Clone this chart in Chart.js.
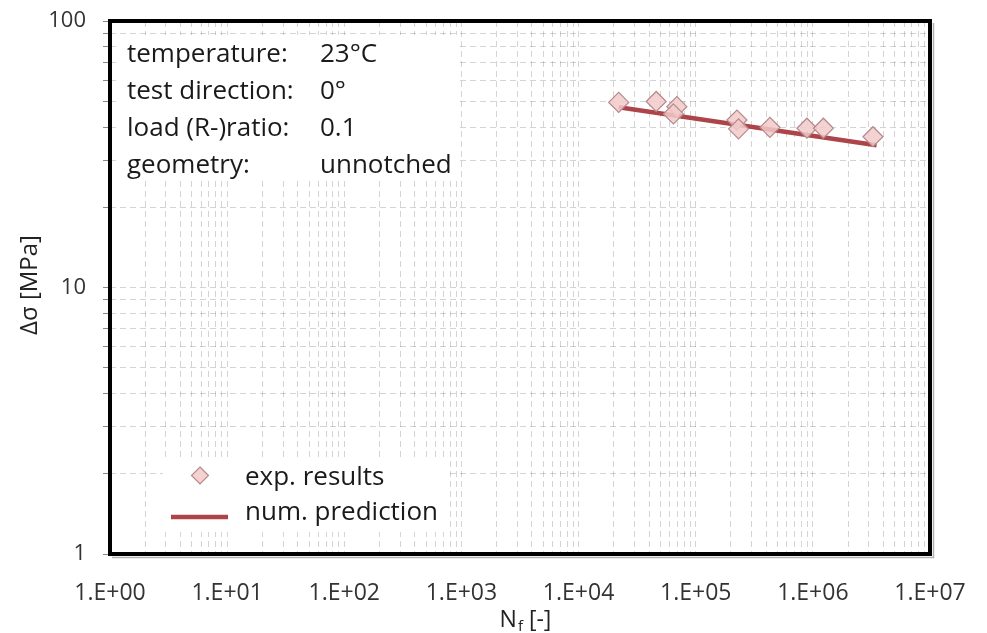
<!DOCTYPE html>
<html>
<head>
<meta charset="utf-8">
<title>S-N curve</title>
<script src="https://cdn.jsdelivr.net/npm/chart.js@4.4.1/dist/chart.umd.min.js"></script>
<style>
    html, body { margin: 0; padding: 0; background: #fff; }
    #wrap { width: 987px; height: 633px; }
</style>
</head>
<body>
<div id="wrap"><canvas id="snChart" width="987" height="633"></canvas></div>
<script>
// experimental fatigue results (cycles to failure, stress range in MPa)
const expCycles = [2.2e4, 4.6e4, 6.9e4, 6.45e4, 2.25e5, 2.32e5, 4.3e5, 8.9e5, 1.23e6, 3.26e6];
const expStress = [49.5, 49.9, 47.7, 44.8, 42.5, 39.4, 39.9, 39.6, 39.6, 36.8];

// numerical prediction, straight line in log-log
const predCycles = [2.2e4, 3.5e6];
const predStress = [47.5, 34.2];

// axis decades and their labels
const xDecades = [1, 10, 100, 1e3, 1e4, 1e5, 1e6, 1e7];
const xTickLabels = ["1.E+00", "1.E+01", "1.E+02", "1.E+03", "1.E+04", "1.E+05", "1.E+06", "1.E+07"];
const yDecades = [1, 10, 100];
const yTickLabels = ["1", "10", "100"];

// test conditions box
const infoLabels = ["temperature:", "test direction:", "load (R-)ratio:", "geometry:"];
const infoValues = ["23°C", "0°", "0.1", "unnotched"];

const FONT = "'Open Sans', 'Noto Sans', sans-serif";
const GRID = "rgba(0, 0, 0, 0.17)";
const LINE_COLOR = "#ad4449";
const MARK_FILL = "rgba(243, 202, 202, 0.85)";
const MARK_EDGE = "#b48a8c";

// 1..9 x 10^n between the first and last decade
function logTicks(decades) {
    const ticks = [];
    decades.forEach((d, i) => {
        if (i === decades.length - 1) {
            ticks.push({ value: d });
            return;
        }
        for (let m = 1; m < 10; m++) ticks.push({ value: m * d });
    });
    return ticks;
}

function decadeLabel(value, decades, labels) {
    const i = decades.findIndex((d) => Math.abs(value / d - 1) < 1e-9);
    return i >= 0 ? labels[i] : "";
}

const decorations = {
    id: "decorations",
    beforeDatasetsDraw(chart) {
        const ctx = chart.ctx;
        ctx.save();

        // info box
        ctx.fillStyle = "#fff";
        ctx.fillRect(120, 35, 338, 143);
        ctx.fillStyle = "#1a1a1a";
        ctx.font = `26px ${FONT}`;
        ctx.textBaseline = "middle";
        infoLabels.forEach((label, i) => {
            const y = 55 + i * 36.7;
            ctx.fillText(label, 127, y);
            ctx.fillText(infoValues[i], 320, y);
        });

        // legend box
        ctx.fillStyle = "#fff";
        ctx.fillRect(163, 457, 284, 75);
        ctx.beginPath();
        ctx.moveTo(200, 467);
        ctx.lineTo(208.5, 475.5);
        ctx.lineTo(200, 484);
        ctx.lineTo(191.5, 475.5);
        ctx.closePath();
        ctx.fillStyle = MARK_FILL;
        ctx.fill();
        ctx.strokeStyle = MARK_EDGE;
        ctx.lineWidth = 1.2;
        ctx.stroke();
        ctx.beginPath();
        ctx.moveTo(171, 517);
        ctx.lineTo(228, 517);
        ctx.strokeStyle = LINE_COLOR;
        ctx.lineWidth = 4.5;
        ctx.stroke();
        ctx.fillStyle = "#1a1a1a";
        ctx.font = `26px ${FONT}`;
        ctx.fillText("exp. results", 245, 478);
        ctx.fillText("num. prediction", 245, 513);

        ctx.restore();
    },
    afterDraw(chart) {
        const ctx = chart.ctx;
        const area = chart.chartArea;
        ctx.save();

        // plot frame with a faint shadow line on the right and bottom
        ctx.strokeStyle = "rgba(0, 0, 0, 0.3)";
        ctx.lineWidth = 1.5;
        ctx.beginPath();
        ctx.moveTo(area.right + 3.5, area.top + 2);
        ctx.lineTo(area.right + 3.5, area.bottom + 3.5);
        ctx.lineTo(area.left + 2, area.bottom + 3.5);
        ctx.stroke();
        ctx.strokeStyle = "#000";
        ctx.lineWidth = 4;
        ctx.strokeRect(area.left, area.top, area.right - area.left, area.bottom - area.top);

        // y axis title
        ctx.fillStyle = "#222";
        ctx.font = `24px ${FONT}`;
        ctx.textAlign = "center";
        ctx.textBaseline = "middle";
        ctx.translate(30, 285);
        ctx.rotate(-Math.PI / 2);
        ctx.fillText("Δσ [MPa]", 0, 0);
        ctx.setTransform(1, 0, 0, 1, 0, 0);

        // x axis title with subscript f
        ctx.textAlign = "left";
        ctx.textBaseline = "alphabetic";
        const base = 627;
        ctx.font = `23px ${FONT}`;
        const nW = ctx.measureText("N").width;
        const rest = " [-]";
        const restW = ctx.measureText(rest).width;
        ctx.font = `15px ${FONT}`;
        const fW = ctx.measureText("f").width;
        let x = 525 - (nW + fW + restW) / 2;
        ctx.font = `23px ${FONT}`;
        ctx.fillText("N", x, base);
        x += nW;
        ctx.font = `15px ${FONT}`;
        ctx.fillText("f", x + 1, base + 4);
        x += fW + 1;
        ctx.font = `23px ${FONT}`;
        ctx.fillText(rest, x, base);

        ctx.restore();
    },
};

const ctx = document.getElementById("snChart").getContext("2d");

new Chart(ctx, {
    data: {
        datasets: [
            {
                type: "scatter",
                label: "exp. results",
                data: expCycles.map((n, i) => ({ x: n, y: expStress[i] })),
                pointStyle: "rectRot",
                pointRadius: 10,
                pointHoverRadius: 10,
                backgroundColor: MARK_FILL,
                borderColor: MARK_EDGE,
                borderWidth: 1.2,
                order: 1,
            },
            {
                type: "line",
                label: "num. prediction",
                data: predCycles.map((n, i) => ({ x: n, y: predStress[i] })),
                borderColor: LINE_COLOR,
                borderWidth: 4.5,
                pointRadius: 0,
                fill: false,
                order: 2,
            },
        ],
    },
    options: {
        responsive: false,
        animation: false,
        layout: {
            padding: { top: 21, right: 57, left: 0, bottom: 0 },
        },
        plugins: {
            legend: { display: false },
            tooltip: { enabled: false },
        },
        scales: {
            x: {
                type: "logarithmic",
                min: 1,
                max: 1e7,
                afterBuildTicks: (scale) => {
                    scale.ticks = logTicks(xDecades);
                },
                afterFit: (scale) => {
                    scale.height = 79;
                    scale.paddingLeft = 0;
                    scale.paddingRight = 0;
                },
                ticks: {
                    autoSkip: false,
                    maxRotation: 0,
                    padding: 26,
                    color: "#333",
                    font: { family: FONT, size: 23 },
                    callback: (value) => decadeLabel(value, xDecades, xTickLabels),
                },
                grid: {
                    color: GRID,
                    drawTicks: false,
                },
                border: { display: false, dash: [6, 4] },
            },
            y: {
                type: "logarithmic",
                min: 1,
                max: 100,
                afterBuildTicks: (scale) => {
                    scale.ticks = logTicks(yDecades);
                },
                afterFit: (scale) => {
                    scale.width = 110;
                    scale.paddingTop = 0;
                    scale.paddingBottom = 0;
                },
                ticks: {
                    autoSkip: false,
                    padding: 17,
                    color: "#333",
                    font: { family: FONT, size: 22 },
                    callback: (value) => decadeLabel(value, yDecades, yTickLabels),
                },
                grid: {
                    color: GRID,
                    tickColor: "#888",
                    tickLength: 7,
                    tickBorderDash: [],
                },
                border: { display: false, dash: [6, 4] },
            },
        },
    },
    plugins: [decorations],
});
</script>
</body>
</html>
